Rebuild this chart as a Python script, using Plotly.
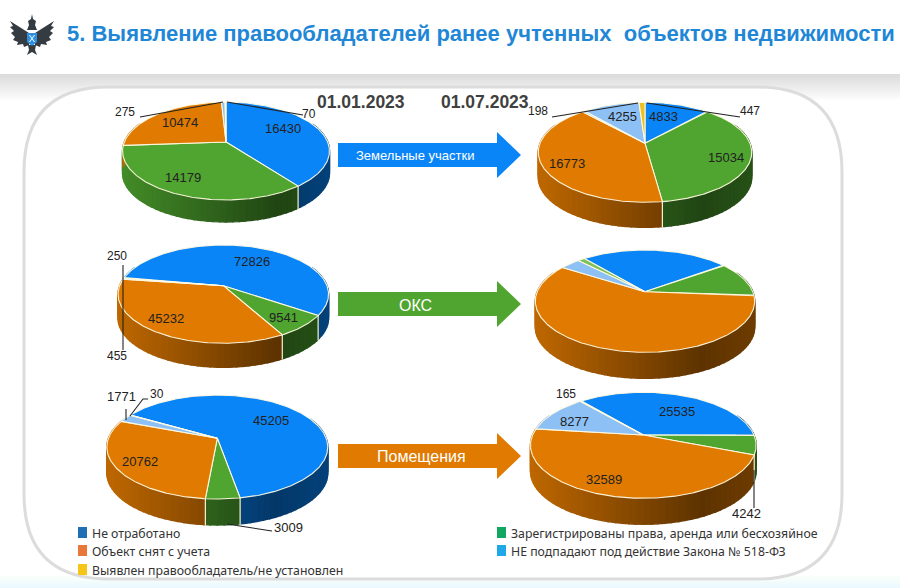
import math
import numpy as np
import plotly.graph_objects as go

# ---------- data ----------
land_start = [16430, 14179, 10474, 275, 70]
land_mid = [4833, 15034, 16773, 198, 4255, 447]
oks_start = [72826, 9541, 45232, 455, 250]
oks_mid = [33370, 14360, 74380, 4600, 1600]
room_start = [45205, 3009, 20762, 1771, 30]
room_mid = [25535, 4242, 32589, 8277, 165]

BLUE, GREEN, ORANGE, LIGHT, YELLOW, LGREEN = "#0a85f7", "#4fa52f", "#e07a00", "#8dc0f5", "#f0c020", "#7cc05a"
colors_five = [BLUE, GREEN, ORANGE, LIGHT, YELLOW]
colors_six = [BLUE, GREEN, ORANGE, LIGHT, LIGHT, YELLOW]
colors_oks_mid = [BLUE, GREEN, ORANGE, LIGHT, LGREEN]

title_text = "5. Выявление правообладателей ранее учтенных  объектов недвижимости"
date_labels = ["01.01.2023", "01.07.2023"]
arrow_labels = ["Земельные участки", "ОКС", "Помещения"]
legend_left = ["Не отработано", "Объект снят с учета", "Выявлен правообладатель/не установлен"]
legend_right = ["Зарегистрированы права, аренда или бесхозяйное", "НЕ подпадают под действие Закона № 518-ФЗ"]

# ---------- geometry of the six tilted pies (apex x,y, a, b, k, depth, start angle) ----------
pies = [
    (land_start, colors_five, 226.0, 142.0, 101.7, 47.3, 0.184, 23, 0),
    (land_mid, colors_six, 645.0, 143.3, 105.0, 48.4, 0.180, 26, 0),
    (oks_start, colors_five, 223.3, 285.7, 103.7, 47.7, 0.172, 25, 280),
    (oks_mid, colors_oks_mid, 645.0, 291.7, 107.8, 49.4, 0.185, 27, 320),
    (room_start, colors_five, 217.3, 438.3, 108.9, 50.5, 0.168, 27, 300),
    (room_mid, colors_five, 643.3, 435.0, 110.7, 51.0, 0.194, 27, 320),
]


def project(theta_deg, cx, cy, a, b, k):
    t = np.radians(theta_deg)
    u, v = np.sin(t), np.cos(t)
    w = 1 + k * v
    return cx + a * u / w, cy - b * v / w


def shade(hex_colour, f):
    r, g, b = [int(hex_colour[i:i + 2], 16) for i in (1, 3, 5)]
    return f"rgb({int(r * f)},{int(g * f)},{int(b * f)})"


fig = go.Figure()
shapes = []

# page background bands
for i in range(14):
    g = 220 + int(35 * i / 13)
    shapes.append(dict(type="rect", x0=0, x1=900, y0=74 + i * 2, y1=76 + i * 2, line_width=0,
                       fillcolor=f"rgb({g},{g},{g})", layer="below"))
for i in range(6):
    shapes.append(dict(type="rect", x0=0, x1=900, y0=576 + i * 2, y1=578 + i * 2, line_width=0,
                       fillcolor=f"rgb({250 - i * 3},{254 - i},{250 + i})", layer="below"))

# rounded panel
L, R, T, B, C = 24, 842, 87, 579, 85
shapes.append(dict(
    type="path", layer="below", fillcolor="white", line=dict(color="#dcdcdc", width=3),
    path=f"M{L + C},{T} L{R - C},{T} Q{R},{T} {R},{T + C} L{R},{B - C} Q{R},{B} {R - C},{B} "
         f"L{L + C},{B} Q{L},{B} {L},{B - C} L{L},{T + C} Q{L},{T} {L + C},{T} Z"))

# logo: simplified eagle
logo_parts = [
    ("#343b41", "M29,33 L10,21 L13,26 L10,27 L14,31 L11,33 L15,37 L13,40 L18,42 L17,45 L23,44 L24,47 L29,45 Z"),
    ("#343b41", "M35,33 L54,21 L51,26 L54,27 L50,31 L53,33 L49,37 L51,40 L46,42 L47,45 L41,44 L40,47 L35,45 Z"),
    ("#343b41", "M28,21 L31,19 L32,14 L33,19 L36,21 L35,25 L37,30 L27,30 L29,25 Z"),
    ("#343b41", "M28,45 L36,45 L35,50 L37,55 L32,52 L27,55 L29,50 Z"),
    ("#2d8fe0", "M27,33 L37,33 L37,42 L32,46 L27,42 Z"),
    ("white", "M29,35 L30,35 L35,42 L34,42 Z"),
    ("white", "M35,35 L34,35 L29,42 L30,42 Z"),
]
for col, p in logo_parts:
    shapes.append(dict(type="path", path=p, fillcolor=col, line_width=0, layer="above"))

# arrows
arrow_rows = [(155, BLUE), (304, "#4fa52f"), (456, "#e07a00")]
for yc, col in arrow_rows:
    shapes.append(dict(
        type="path", layer="below", fillcolor=col, line_width=0,
        path=f"M338,{yc - 12} L497,{yc - 12} L497,{yc - 23} L521,{yc} L497,{yc + 23} L497,{yc + 12} L338,{yc + 12} Z"))


def add_poly(xs, ys, colour, line_col=None, lw=1.4):
    fig.add_trace(go.Scatter(
        x=xs, y=ys, mode="lines", fill="toself", fillcolor=colour,
        line=dict(color=line_col or colour, width=lw),
        hoverinfo="skip", showlegend=False))


RIM = "rgba(255,250,225,0.95)"
for values, cols, cx, cy, a, b, k, depth, start in pies:
    total = float(sum(values))
    spans = [v / total * 360 for v in values]
    edges = start + np.concatenate([[0], np.cumsum(spans)])
    ring = np.arange(0, 360, 2.0)
    rx, ry = project(ring, cx, cy, a, b, k)
    left, right = rx.min(), rx.max()

    # side wall in small strips, so the shading runs across the pie
    for i, col in enumerate(cols):
        lo, hi = edges[i], edges[i + 1]
        grid = np.unique(np.clip(np.arange(math.floor(lo / 3) * 3, hi + 3, 3.0), lo, hi))
        for t0, t1 in zip(grid[:-1], grid[1:]):
            mid = (t0 + t1) / 2 % 360
            if not 65 <= mid <= 295:
                continue
            x0, y0 = project(t0, cx, cy, a, b, k)
            x1, y1 = project(t1, cx, cy, a, b, k)
            t = ((x0 + x1) / 2 - left) / (right - left)
            f = 0.85 - 0.57 * t if t < 0.75 else 0.42 + 0.3 * (t - 0.75)
            add_poly([x0, x1, x1, x0, x0], [y0, y1, y1 + depth - 1, y0 + depth - 1, y0], shade(col, f))

    # seams on the wall
    for e in edges[:-1]:
        m = e % 360
        if 100 <= m <= 265:
            x0, y0 = project(m, cx, cy, a, b, k)
            fig.add_trace(go.Scatter(x=[x0, x0], y=[y0, y0 + depth], mode="lines",
                                     line=dict(color=RIM, width=1.2),
                                     hoverinfo="skip", showlegend=False))

    # top faces
    for i, col in enumerate(cols):
        lo, hi = edges[i], edges[i + 1]
        th = np.linspace(lo, hi, max(3, int((hi - lo) * 1.5) + 2))
        xs, ys = project(th, cx, cy, a, b, k)
        add_poly(np.concatenate([[cx], xs, [cx]]), np.concatenate([[cy], ys, [cy]]), col,
                 line_col=RIM, lw=1.1)

# leader lines
leaders = [
    ([140, 223], [117, 102]), ([303, 227], [115, 102]),
    ([552, 638], [117, 103]), ([740, 647], [117, 103]),
    ([123, 123], [265, 350]),
    ([126, 126], [409, 420]), ([130, 143, 148], [416, 399, 399]),
    ([227, 272], [524, 531]),
    ([754, 754], [470, 508]),
]
for xs, ys in leaders:
    fig.add_trace(go.Scatter(x=xs, y=ys, mode="lines", line=dict(color="#222222", width=1.1),
                             hoverinfo="skip", showlegend=False))

annotations = []


def text(x, y, s, size=12, color="#222222", family="Liberation Sans", bold=False, anchor="center"):
    annotations.append(dict(
        x=x, y=y, xref="x", yref="y", text=f"<b>{s}</b>" if bold else s, showarrow=False,
        xanchor=anchor, yanchor="middle",
        font=dict(size=size, color=color, family=family)))


# value labels, each drawn from the value arrays
value_labels = [
    (land_start, [(283, 128), (183, 177), (180, 122), (125, 112), (309, 114)]),
    (land_mid, [(663, 116), (726, 157), (567, 163), (538, 111), (622, 116), (750, 111)]),
    (oks_start, [(252, 261), (283, 317), (166, 318), (117, 356), (117, 256)]),
    (room_start, [(271, 420), (288, 527), (140, 461), (121, 396), (157, 394)]),
    (room_mid, [(677, 411), (746, 513), (604, 479), (574, 421), (566, 394)]),
]
for vals, spots in value_labels:
    for v, (x, y) in zip(vals, spots):
        text(x, y, str(v), size=13 if v >= 1000 else 12)

text(65, 33, title_text, size=22, color="#1f87d6", bold=True, anchor="left")
text(361, 102, date_labels[0], size=17.5, color="#404040", bold=True)
text(485, 102, date_labels[1], size=17.5, color="#404040", bold=True)

text(415, 155, arrow_labels[0], size=13, color="white")
text(415, 305, arrow_labels[1], size=16, color="white")
text(421, 456, arrow_labels[2], size=16, color="white")

# legend
legend_rows = [
    (78, 533, "#1f6fb5", legend_left[0]), (78, 551, "#e8783a", legend_left[1]), (78, 570, "#f5c518", legend_left[2]),
    (497, 533, "#10a860", legend_right[0]), (497, 551, "#1fa8e8", legend_right[1]),
]
for x, y, col, s in legend_rows:
    shapes.append(dict(type="rect", x0=x, x1=x + 9, y0=y - 6, y1=y + 5, fillcolor=col, line_width=0, layer="above"))
    text(x + 12, y, s, size=12.3, color="#333333", family="Noto Sans", anchor="left")

fig.update_layout(
    width=900, height=588, margin=dict(l=0, r=0, t=0, b=0),
    paper_bgcolor="white", plot_bgcolor="white", showlegend=False,
    xaxis=dict(range=[0, 900], visible=False, fixedrange=True),
    yaxis=dict(range=[588, 0], visible=False, fixedrange=True),
    shapes=shapes, annotations=annotations,
)
fig.write_html("out.html", config={"displayModeBar": False},
               post_script="document.body.style.margin='0';document.documentElement.style.overflow='hidden';")
